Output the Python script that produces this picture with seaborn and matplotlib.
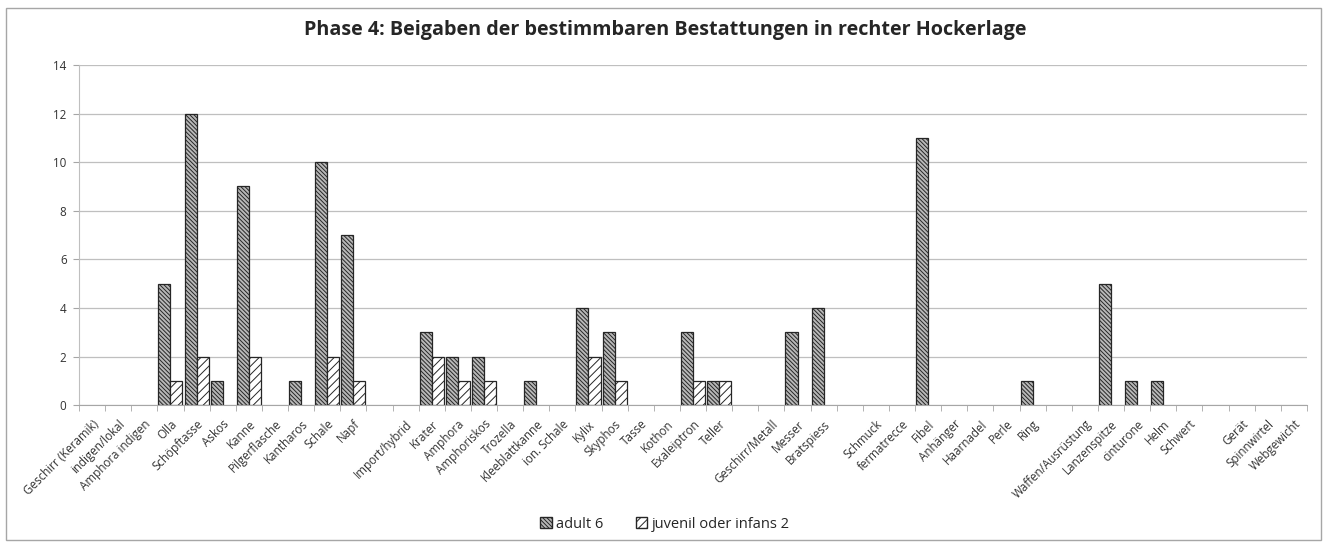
import numpy as np
import pandas as pd
import matplotlib
matplotlib.use("Agg")
import matplotlib.pyplot as plt
import seaborn as sns
from matplotlib.patches import Patch, Rectangle

# category labels in order ("" = empty spacer category, as in the original)
categories = [
    "Geschirr (Keramik)", "indigen/lokal", "Amphora indigen", "Olla", "Schöpftasse",
    "Askos", "Kanne", "Pilgerflasche", "Kantharos", "Schale", "Napf", "",
    "Import/hybrid", "Krater", "Amphora", "Amphoriskos", "Trozella", "Kleeblattkanne",
    "ion. Schale", "Kylix", "Skyphos", "Tasse", "Kothon", "Exaleiptron", "Teller", "",
    "Geschirr/Metall", "Messer", "Bratspiess", "", "Schmuck", "fermatrecce", "Fibel",
    "Anhänger", "Haarnadel", "Perle", "Ring", "", "Waffen/Ausrüstung", "Lanzenspitze",
    "cinturone", "Helm", "Schwert", "", "Gerät", "Spinnwirtel", "Webgewicht",
]
adult = [
    0, 0, 0, 5, 12, 1, 9, 0, 1, 10, 7, 0,
    0, 3, 2, 2, 0, 1, 0, 4, 3, 0, 0, 3, 1, 0,
    0, 3, 4, 0, 0, 0, 11, 0, 0, 0, 1, 0, 0, 5,
    1, 1, 0, 0, 0, 0, 0,
]
juvenil = [
    0, 0, 0, 1, 2, 0, 2, 0, 0, 2, 1, 0,
    0, 2, 1, 1, 0, 0, 0, 2, 1, 0, 0, 1, 1, 0,
    0, 0, 0, 0, 0, 0, 0, 0, 0, 0, 0, 0, 0, 0,
    0, 0, 0, 0, 0, 0, 0,
]
series = ["adult 6", "juvenil oder infans 2"]
title = "Phase 4: Beigaben der bestimmbaren Bestattungen in rechter Hockerlage"

# unique keys so the empty spacer categories stay separate
keys = [c if c else f"_gap{i}" for i, c in enumerate(categories)]
df = pd.DataFrame({
    "key": keys * 2,
    "value": adult + juvenil,
    "series": [series[0]] * len(keys) + [series[1]] * len(keys),
})

plt.rcParams["font.family"] = ["Open Sans", "DejaVu Sans"]
plt.rcParams["hatch.linewidth"] = 0.7

fig = plt.figure(figsize=(13.3, 5.46), dpi=100)
ax = fig.add_axes([0.0594, 0.258, 0.9233, 0.623])

sns.barplot(data=df, x="key", y="value", hue="series", order=keys,
            hue_order=series, width=0.92, gap=0, legend=False, ax=ax,
            palette=["#b8b8b8", "white"], edgecolor="#262626", linewidth=0.9,
            saturation=1)

hatches = ["\\\\\\\\\\\\\\\\", "////"]
for cont, h in zip(ax.containers, hatches):
    for bar in cont:
        bar.set_hatch(h)
        if bar.get_height() == 0:
            bar.set_visible(False)

ax.set_ylim(0, 14)
ax.set_yticks(range(0, 15, 2))
ax.set_xlim(-0.5, len(keys) - 0.5)
ax.set_xticks(range(len(keys)))
ax.set_xticklabels(categories, rotation=45, ha="right", rotation_mode="anchor",
                   fontsize=8.4, color="#333333")
ax.set_xticks(np.arange(-0.5, len(keys), 1), minor=True)
ax.tick_params(axis="x", which="major", length=0, pad=9)
ax.tick_params(axis="x", which="minor", length=4, color="#a6a6a6")
ax.tick_params(axis="y", length=4, color="#a6a6a6", labelsize=8.4,
               labelcolor="#333333", pad=5)
ax.set_xlabel("")
ax.set_ylabel("")
ax.grid(axis="y", color="#bfbfbf", linewidth=0.9)
ax.set_axisbelow(True)
for s in ["top", "right"]:
    ax.spines[s].set_visible(False)
ax.spines["left"].set_color("#bfbfbf")
ax.spines["bottom"].set_color("#a6a6a6")

fig.text(0.5, 0.945, title, ha="center", va="center", fontsize=14.2,
         fontweight="bold", color="#262626")

handles = [Patch(facecolor="#b8b8b8", edgecolor="#262626", hatch=hatches[0]),
           Patch(facecolor="white", edgecolor="#262626", hatch=hatches[1])]
fig.legend(handles, series, loc="center", bbox_to_anchor=(0.5, 0.04), ncol=2,
           frameon=False, fontsize=10.5, handlelength=0.8, handleheight=0.8,
           handletextpad=0.3, columnspacing=2.2, labelcolor="#262626")

fig.add_artist(Rectangle((0.0045, 0.011), 0.989, 0.974, transform=fig.transFigure,
                         fill=False, edgecolor="#a6a6a6", linewidth=1.0))

fig.savefig("out.png", dpi=100)
